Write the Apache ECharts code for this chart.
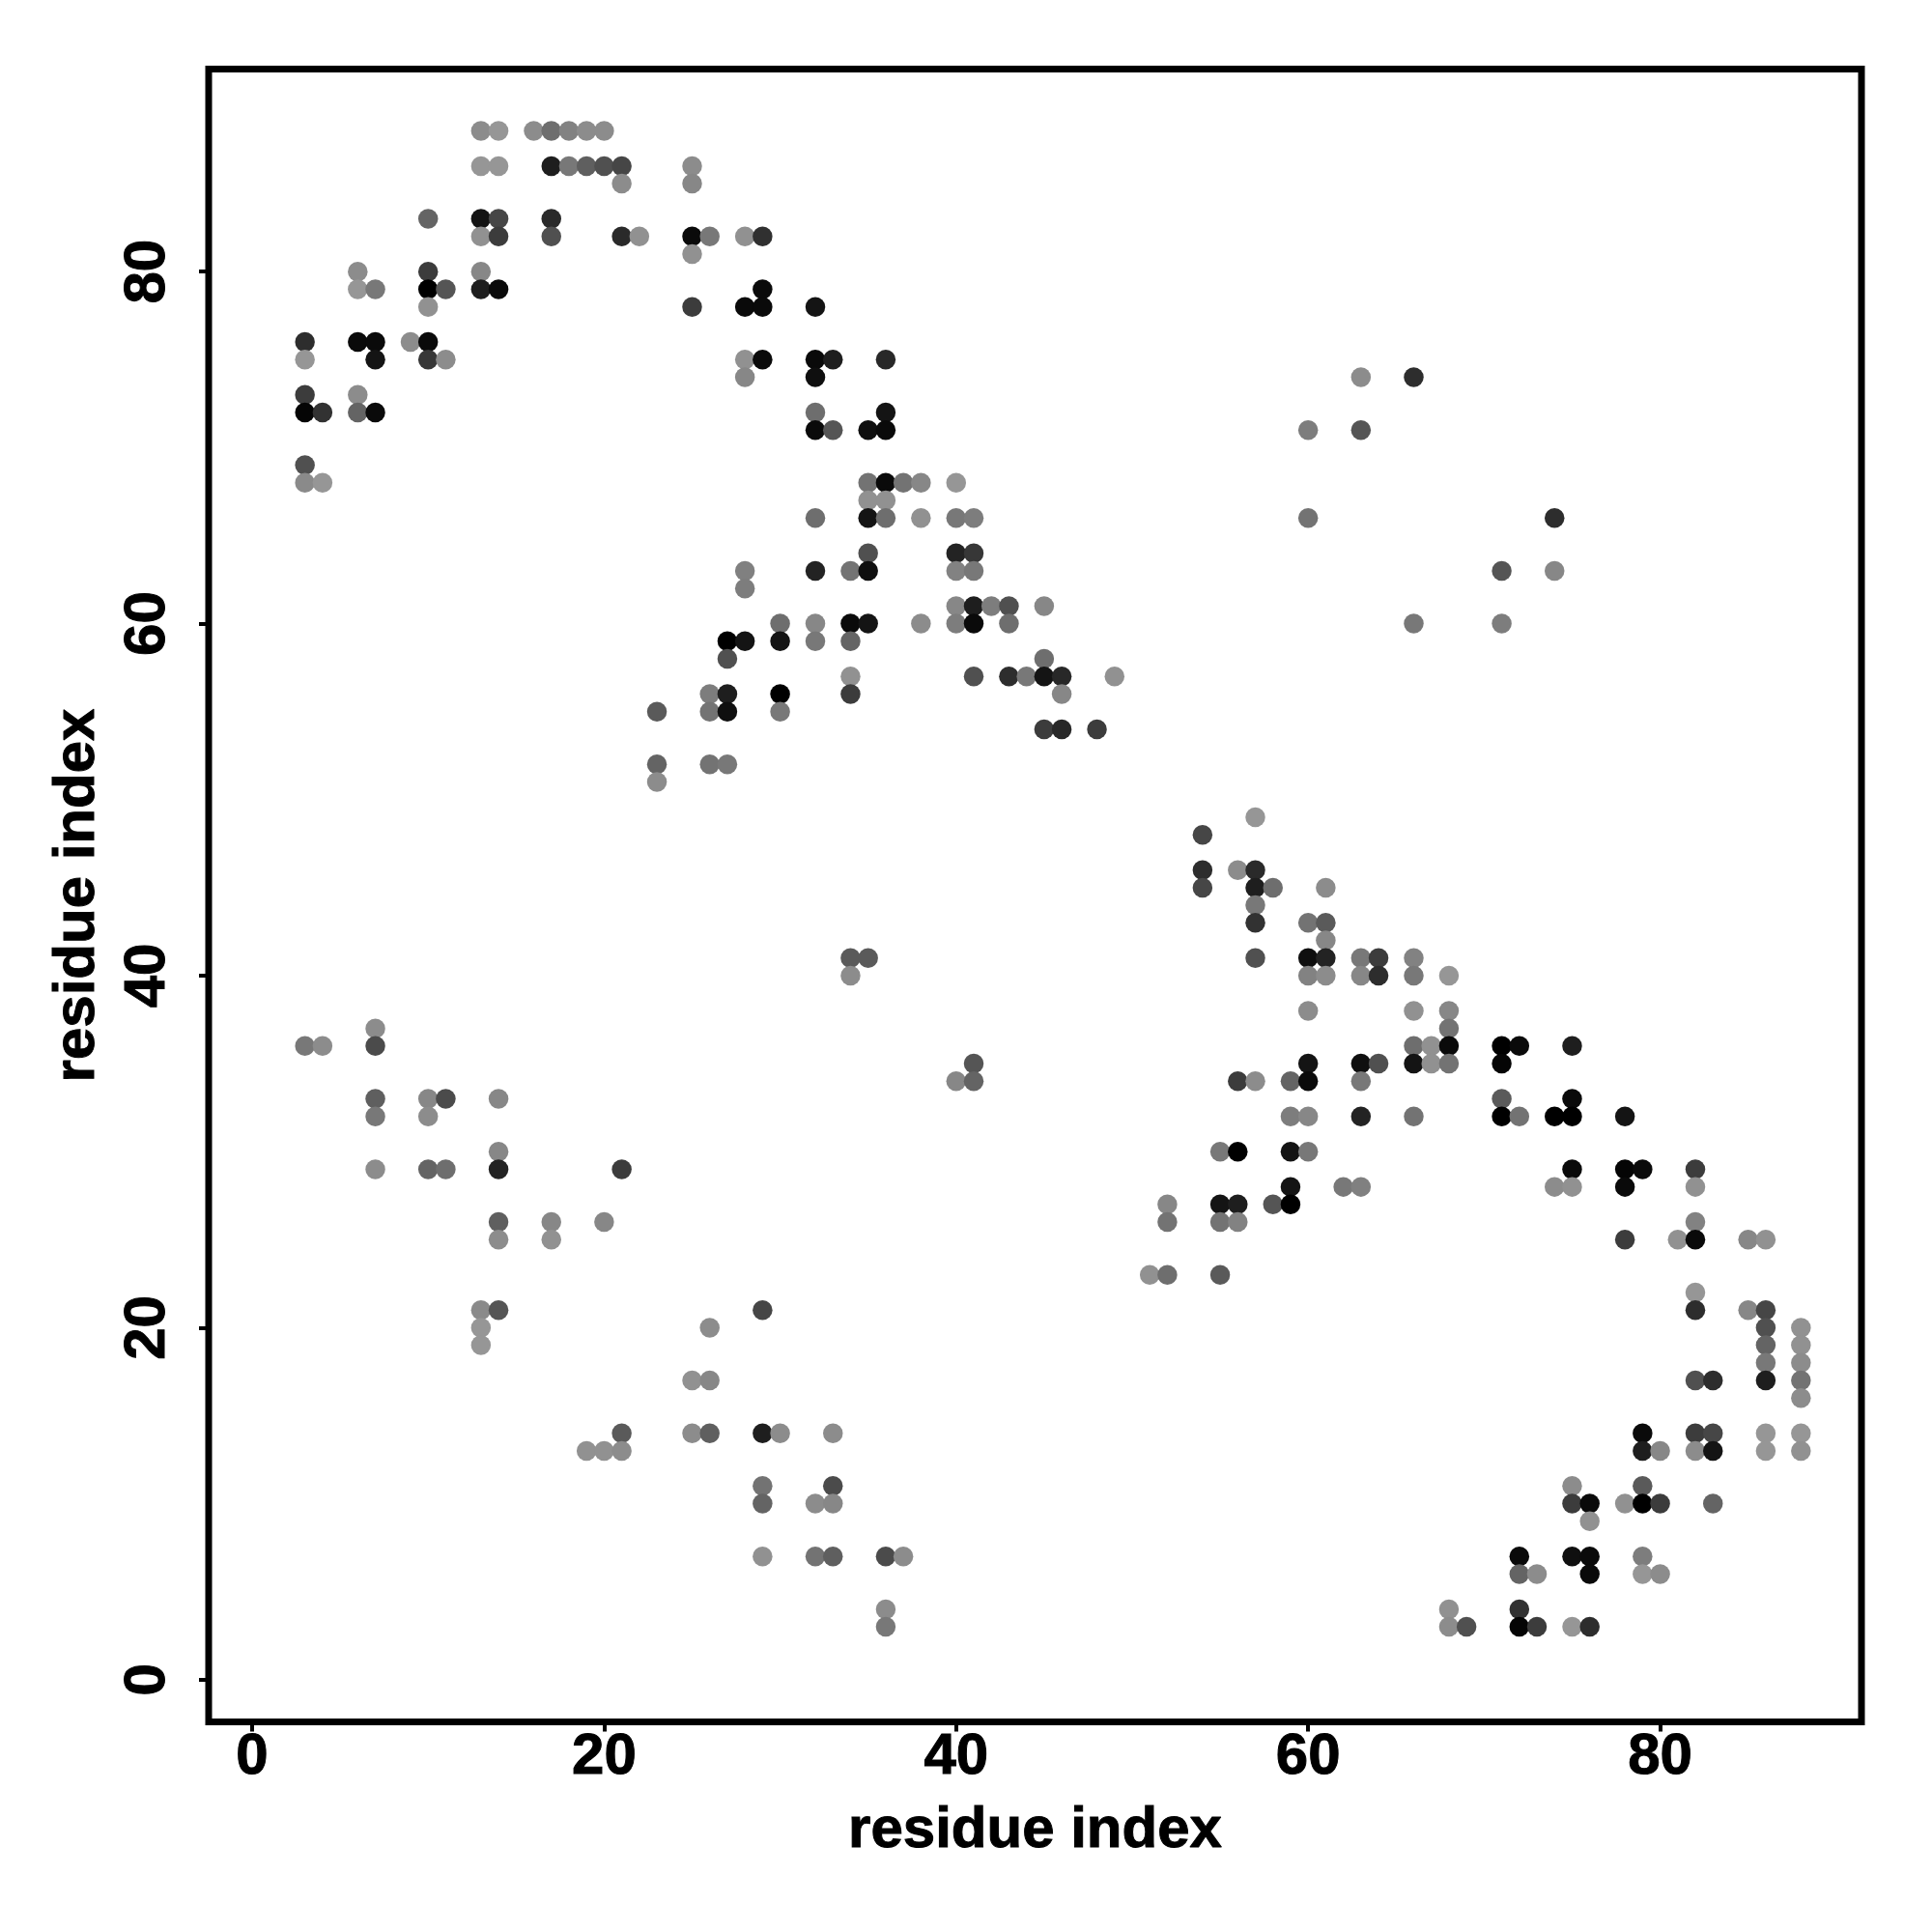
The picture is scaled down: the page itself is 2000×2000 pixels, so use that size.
<!DOCTYPE html>
<html>
<head>
<meta charset="utf-8">
<style>html,body{margin:0;padding:0;background:#fff}#chart{width:2000px;height:2000px}</style>
<script src="https://cdn.jsdelivr.net/npm/echarts@6/dist/echarts.min.js"></script>
</head>
<body>
<div id="chart"></div>
<script>
const axisTitle = 'residue index';
const tickValues = [0, 20, 40, 60, 80];
const rowIndex = [88,86,85,83,82,81,80,79,78,76,75,74,73,72,71,69,68,67,66,64,63,62,61,60,59,58,57,56,55,54,52,51,49,48,46,45,44,43,42,41,40,38,37,36,35,34,33,32,30,29,28,27,26,25,23,22,21,20,19,18,17,16,14,13,11,10,9,7,6,4,3];
const rowResidues = [
 [13,14,16,17,18,19,20],
 [13,14,17,18,19,20,21,25],
 [21,25],
 [10,13,14,17],
 [13,14,17,21,22,25,26,28,29],
 [25],
 [6,10,13],
 [6,7,10,11,13,14,29],
 [10,25,28,29,32],
 [3,6,7,9,10],
 [3,7,10,11,28,29,32,33,36],
 [28,32,63,66],
 [3,6],
 [3,4,6,7,32,36],
 [32,33,35,36,60,63],
 [3],
 [3,4,35,36,37,38,40],
 [35,36],
 [32,35,36,38,40,41,60,74],
 [35,40,41],
 [28,32,34,35,40,41,71,74],
 [28],
 [40,41,42,43,45],
 [30,32,34,35,38,40,41,43,66,71],
 [27,28,30,32,34],
 [27,45],
 [34,41,43,44,45,46,49],
 [26,27,30,34,46],
 [23,26,27,30],
 [45,46,48],
 [23,26,27],
 [23],
 [57],
 [54],
 [54,56,57],
 [54,57,58,61],
 [57],
 [57,60,61],
 [61],
 [34,35,57,60,61,63,64,66],
 [34,60,61,63,64,66,68],
 [60,66,68],
 [7,68],
 [3,4,7,66,67,68,71,72,75],
 [41,60,63,64,66,67,68,71],
 [40,41,56,57,59,60,63],
 [7,10,11,14,71,75],
 [7,10,59,60,63,66,71,72,74,75,78],
 [14,55,56,59,60],
 [7,10,11,14,21,75,78,79,82],
 [59,62,63,74,75,78,82],
 [52,55,56,58,59],
 [14,17,20,52,55,56,82],
 [14,17,78,81,82,85,86],
 [51,52,55],
 [82],
 [13,14,29,82,85,86],
 [13,26,86,88],
 [13,86,88],
 [86,88],
 [25,26,82,83,86,88],
 [88],
 [21,25,26,29,30,33,79,82,83,86,88],
 [19,20,21,79,80,82,83,86,88],
 [29,33,75,79],
 [29,32,33,75,76,78,79,80,83],
 [76],
 [29,32,33,36,37,72,75,76,79],
 [72,73,76,79,80],
 [36,68,72],
 [36,68,69,72,73,75,76]
];
const rowShades = [
 [140,150,140,110,130,140,140],
 [150,150,30,120,95,80,70,140],
 [140,135],
 [100,20,70,42],
 [145,60,80,42,145,10,120,145,48],
 [145],
 [140,60,135],
 [150,120,0,85,30,10,10],
 [145,60,10,10,20],
 [45,10,10,140,10],
 [150,20,55,140,145,10,10,30,40],
 [135,15,140,45],
 [60,140],
 [5,50,100,10,110,20],
 [10,85,15,10,125,85],
 [80],
 [138,150,115,10,115,135,150],
 [145,145],
 [110,20,110,145,120,125,115,45],
 [80,35,55],
 [128,35,115,15,130,120,85,135],
 [125],
 [135,30,125,80,135],
 [110,135,10,20,140,125,10,110,120,125],
 [0,20,20,120,100],
 [80,110],
 [145,80,45,120,20,40,145],
 [125,30,0,60,135],
 [90,115,15,120],
 [60,40,60],
 [100,115,120],
 [140],
 [150],
 [70],
 [45,140,42],
 [70,30,110,140],
 [120],
 [50,115,90],
 [135],
 [90,90,80,15,35,120,60,130],
 [140,130,140,135,45,120,150],
 [140,145,135],
 [140,115],
 [120,140,75,110,145,10,0,10,30],
 [85,20,15,80,20,145,115,5],
 [135,100,60,140,100,10,120],
 [95,135,75,135,90,10],
 [120,140,125,135,35,115,0,115,0,0,20],
 [135,120,0,20,120],
 [140,100,110,35,60,10,5,10,60],
 [20,120,128,140,145,10,145],
 [135,20,30,85,0],
 [95,135,135,115,115,130,130],
 [140,145,60,145,10,135,145],
 [145,110,90],
 [150],
 [138,85,70,45,135,70],
 [150,140,80,145],
 [150,100,145],
 [120,140],
 [145,135,80,45,30,115],
 [140],
 [90,140,95,30,140,140,10,60,70,150,150],
 [145,145,140,30,135,140,20,150,145],
 [115,75,140,90],
 [100,140,135,60,10,145,0,60,100],
 [145],
 [145,115,95,75,140,10,15,10,125],
 [100,140,10,150,140],
 [140,145,50],
 [120,140,80,5,60,150,45]
];

const contacts = [];
rowIndex.forEach((y, r) => {
  rowResidues[r].forEach((x, c) => contacts.push([x, y, rowShades[r][c]]));
});

const fontFamily = '"Liberation Sans", Arial, Helvetica, sans-serif';
const labelStyle = { fontFamily, fontWeight: 'bold', fontSize: 60, color: '#000', textBorderColor: '#000', textBorderWidth: 1 };
function axis(extra) {
  return Object.assign({
    type: 'value',
    name: axisTitle,
    nameLocation: 'middle',
    nameTextStyle: { fontFamily, fontWeight: 'bold', fontSize: 60, color: '#000', textBorderColor: '#000', textBorderWidth: 1 },
    splitLine: { show: false },
    axisLine: { show: false, onZero: false },
    axisTick: { show: true, customValues: tickValues, length: 10, lineStyle: { color: '#000', width: 4 } }
  }, extra);
}
const chart = echarts.init(document.getElementById('chart'), null, { renderer: 'canvas' });
chart.setOption({
  animation: false,
  backgroundColor: '#fff',
  grid: { left: 216, top: 71.5, width: 1711, height: 1711, show: true, borderColor: '#000', borderWidth: 7, backgroundColor: 'transparent' },
  xAxis: axis({ min: -2.47, max: 91.44, nameGap: 83,
    axisLabel: Object.assign({ show: true, customValues: tickValues, margin: 7 }, labelStyle) }),
  yAxis: axis({ min: -2.40, max: 91.51, nameGap: 106,
    axisLabel: Object.assign({ show: true, customValues: tickValues, rotate: 90, margin: 33 }, labelStyle) }),
  visualMap: { show: false, type: 'continuous', dimension: 2, min: 0, max: 150, inRange: { color: ['#000000', '#969696'] } },
  series: [{ type: 'scatter', symbol: 'circle', symbolSize: 20.5, data: contacts, itemStyle: { opacity: 1 } }]
});
</script>
</body>
</html>
